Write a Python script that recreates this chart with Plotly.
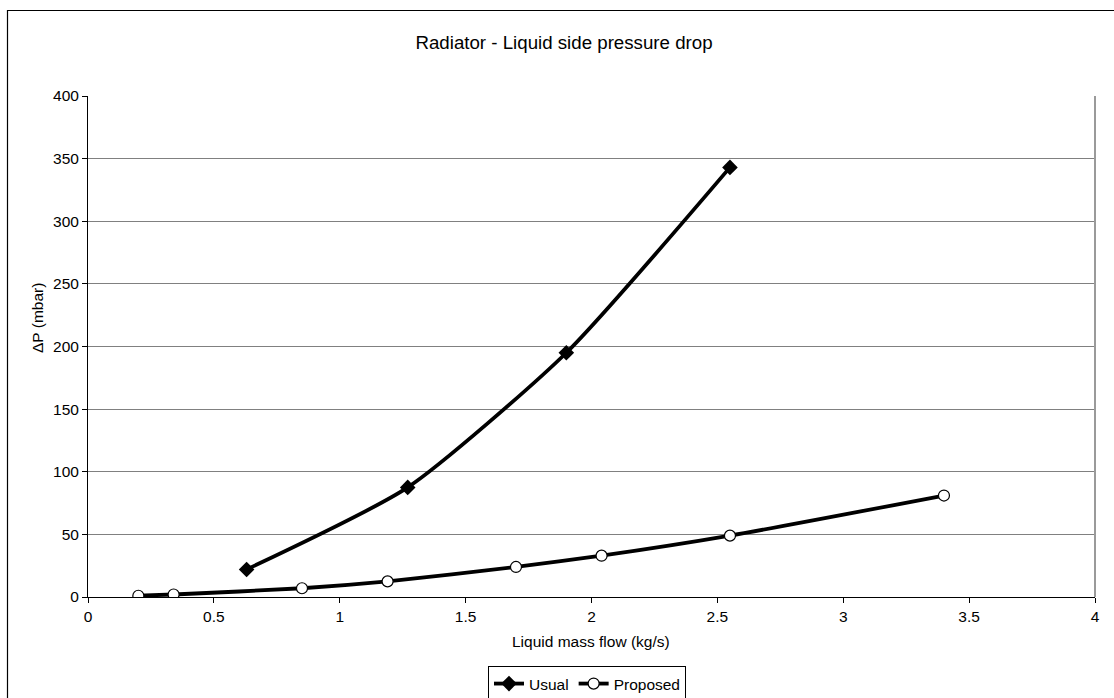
import plotly.graph_objects as go

# Data
usual_x = [0.63, 1.27, 1.9, 2.55]
usual_y = [22, 87.5, 195, 343]
proposed_x = [0.2, 0.34, 0.85, 1.19, 1.7, 2.04, 2.55, 3.4]
proposed_y = [1, 2, 7, 12.5, 24, 33, 49, 81]
x_ticks = [0, 0.5, 1, 1.5, 2, 2.5, 3, 3.5, 4]
x_tick_labels = ["0", "0.5", "1", "1.5", "2", "2.5", "3", "3.5", "4"]
y_ticks = [0, 50, 100, 150, 200, 250, 300, 350, 400]

W, H = 1114, 698
L, R, T, B = 88, 19, 96, 101
pw, ph = W - L - R, H - T - B

def px(x):
    return (x - L) / pw

def py(y):
    return (H - B - y) / ph

FONT = "Liberation Sans, Arial, sans-serif"
FS = 15.5

fig = go.Figure()
fig.add_trace(go.Scatter(
    x=usual_x, y=usual_y, name="Usual", mode="lines+markers",
    line=dict(color="black", width=3.8, shape="spline", smoothing=0.6),
    marker=dict(symbol="diamond", size=12, color="black"),
))
fig.add_trace(go.Scatter(
    x=proposed_x, y=proposed_y, name="Proposed", mode="lines+markers",
    line=dict(color="black", width=3.8, shape="spline", smoothing=0.6),
    marker=dict(symbol="circle", size=11, color="white", line=dict(color="black", width=1.2)),
))

fig.update_layout(
    width=W, height=H,
    margin=dict(l=L, r=R, t=T, b=B, autoexpand=False),
    paper_bgcolor="white", plot_bgcolor="white",
    font=dict(family=FONT, size=FS, color="black"),
    title=dict(text="Radiator - Liquid side pressure drop", x=564 / W, xanchor="center",
               y=1 - 42 / H, yanchor="middle", font=dict(size=18.7, family=FONT, color="black")),
    showlegend=True,
    legend=dict(orientation="h", xref="container", yref="container",
                x=587 / W, xanchor="center", y=1 - 684 / H, yanchor="middle",
                bordercolor="black", borderwidth=1, bgcolor="white",
                font=dict(size=FS, family=FONT), itemwidth=30, tracegroupgap=0),
    xaxis=dict(range=[0, 4], tickvals=x_ticks, ticktext=x_tick_labels,
               showgrid=False, zeroline=False, showline=True, linecolor="black", linewidth=1,
               ticks="outside", ticklen=5, tickcolor="black"),
    yaxis=dict(range=[0, 400], tickvals=y_ticks,
               showgrid=True, gridcolor="#808080", gridwidth=1, zeroline=False,
               showline=True, linecolor="black", linewidth=1,
               ticks="outside", ticklen=5, tickcolor="black"),
    annotations=[
        dict(text="Liquid mass flow (kg/s)", xref="paper", yref="paper",
             x=px(591), y=py(641), xanchor="center", yanchor="middle",
             showarrow=False, font=dict(size=FS, family=FONT)),
        dict(text="ΔP (mbar)", xref="paper", yref="paper",
             x=px(37), y=py(318), xanchor="center", yanchor="middle",
             textangle=-90, showarrow=False, font=dict(size=FS, family=FONT)),
    ],
)

# right edge of plot area (grey)
fig.add_shape(type="line", xref="paper", yref="paper", x0=1, x1=1, y0=0, y1=1,
              line=dict(color="#9a9a9a", width=2))
# outer chart border
fig.add_shape(type="rect", xref="paper", yref="paper",
              x0=px(7.5), x1=px(1125), y0=py(710), y1=py(10.5),
              line=dict(color="black", width=1.2), layer="below")

fig.write_html("out.html", config={"displayModeBar": False},
               post_script="document.body.style.margin='0px';")
